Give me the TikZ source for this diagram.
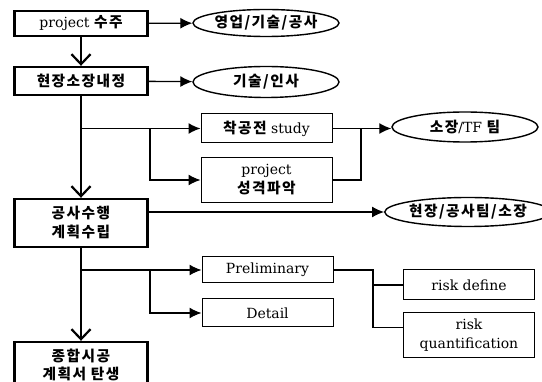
\documentclass[tikz,border=0pt]{standalone}
\usepackage{fontspec}
\setmainfont{DejaVu Serif}
\newfontfamily\krfont{Noto Sans CJK KR}[Scale=1.05,LetterSpace=10]
\newcommand{\kr}[1]{{\krfont\bfseries #1}}
\usepackage{tikz}
\usetikzlibrary{shapes}
\usetikzlibrary{arrows.meta,positioning}

\begin{document}
\begin{tikzpicture}[x=1pt, y=-1pt,
    font=\fontsize{14}{19}\selectfont,
    mainbox/.style={draw, line width=2.4pt, minimum width=133pt, inner sep=0pt, align=center},
    subbox/.style={draw, line width=1pt, minimum width=131pt, inner sep=0pt, align=center},
    team/.style={draw, ellipse, line width=1.4pt, minimum width=146pt, inner sep=0pt},
    flow/.style={line width=1.6pt, -{Straight Barb[length=10pt, width=19pt, line width=2.2pt]}},
    feed/.style={line width=1.3pt, -{Latex[length=12pt, width=11pt]}},
    link/.style={line width=1.2pt}]
      \useasboundingbox (0, 0) rectangle (542, 382);
      % main column
      \node [mainbox, minimum height=25pt] (suju)     at (81, 23.5) {project \kr{수주}};
      \node [mainbox, minimum height=28pt] (naejeong) at (81, 81)   {\kr{현장소장내정}};
      \node [mainbox, minimum height=48pt] (suhaeng)  at (81, 223)  {\kr{공사수행}\\\kr{계획수립}};
      \node [mainbox, minimum height=46pt, font=\fontsize{14}{18}\selectfont] (tansaeng) at (81, 365) {\kr{종합시공}\\\kr{계획서 탄생}};
      % who is in charge
      \node [team, minimum height=27pt] (sales)  at (266, 23)  {\kr{영업/기술/공사}};
      \node [team, minimum height=31pt] (staff)  at (266, 82)  {\kr{기술/인사}};
      \node [team, minimum height=30pt] (tfteam) at (465, 127) {\kr{소장}/TF \kr{팀}};
      \node [team, minimum height=29pt] (site)   at (468, 212) {\kr{현장/공사팀/소장}};
      % studies and plans
      \node [subbox, minimum height=29pt] (study)  at (266.5, 128.5) {\kr{착공전} study};
      \node [subbox, minimum height=45pt] (nature) at (266.5, 180)   {project\\\kr{성격파악}};
      \node [subbox, minimum height=26pt] (prelim) at (267.5, 270)   {Preliminary};
      \node [subbox, minimum height=28pt] (detail) at (267.5, 313)   {Detail};
      \node [subbox, minimum height=30pt] (rdef)   at (469, 285)     {risk define};
      \node [subbox, minimum height=45pt] (rquant) at (469, 335.5)   {risk\\quantification};
      % branch points
      \coordinate (fork1) at (81, 128.5);
      \coordinate (knee1) at (150, 128.5);
      \coordinate (join1) at (361, 128.5);
      \coordinate (fork2) at (81, 270);
      \coordinate (knee2) at (150, 270);
      \coordinate (join2) at (373, 270);
      % connectors
      \draw [flow] (suju.south) -- (suju.south |- naejeong.north);
      \draw [flow] (naejeong.south) -- (naejeong.south |- suhaeng.north);
      \draw [flow] (suhaeng.south) -- (suhaeng.south |- tansaeng.north);
      \draw [feed] (suju) -- (sales);
      \draw [feed] (naejeong) -- (staff);
      \draw [feed] (fork1) -- (study.west);
      \draw [feed] (knee1) |- (nature.west);
      \draw [feed] (study.east) -- (study.east -| tfteam.west);
      \draw [link] (nature.east) -| (join1);
      \draw [feed] (suhaeng.east |- site.west) -- (site.west);
      \draw [feed] (fork2) -- (prelim.west);
      \draw [feed] (knee2) |- (detail.west);
      \draw [link] (prelim.east) -- (join2) |- (rdef.west);
      \draw [link] (join2) |- ([yshift=8pt]rquant.west);
\end{tikzpicture}
\end{document}
